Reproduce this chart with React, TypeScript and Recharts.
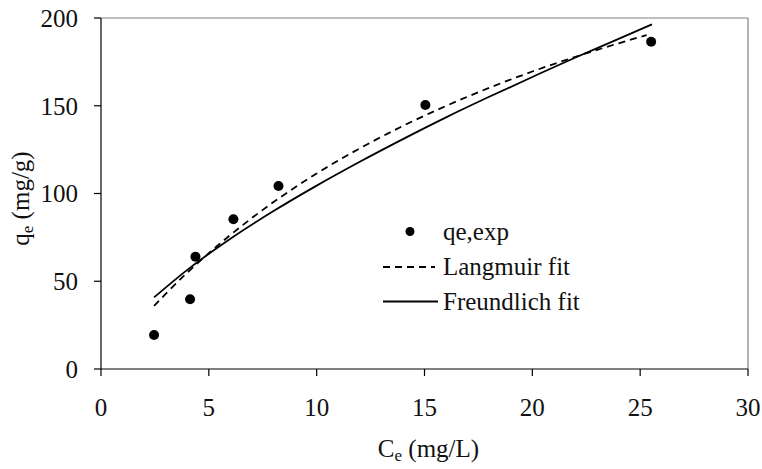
import { ComposedChart, Scatter, Line, XAxis, YAxis, ReferenceLine, Label } from "recharts";

// experimental points
const ceExp = [2.46, 4.13, 4.38, 6.14, 8.23, 15.04, 25.51];
const qeExp = [19.4, 39.7, 64.0, 85.3, 104.3, 150.4, 186.5];

// fitted curves
const langmuirCe = [2.46, 3, 4, 5, 6, 8, 10, 12, 14, 16, 18, 20, 22, 24, 25.3];
const langmuirQe = [35.9, 42.8, 54.9, 66.0, 76.4, 95.1, 111.4, 125.7, 138.5, 149.9, 160.2, 169.5, 177.9, 185.6, 190.3];
const freundlichCe = [2.46, 4, 6, 8, 10, 12, 14, 16, 18, 20, 22, 24, 25.55];
const freundlichQe = [40.8, 56.5, 74.2, 90.0, 104.5, 118.1, 131.0, 143.4, 155.1, 166.4, 177.5, 188.1, 196.4];

const xTicks = [0, 5, 10, 15, 20, 25, 30];
const yTicks = [0, 50, 100, 150, 200];

const legendItems = ["qe,exp", "Langmuir fit", "Freundlich fit"];

const font = "Liberation Serif";
const ink = "#111";

const toRows = (xs: number[], ys: number[]) => xs.map((x, i) => ({ x, q: ys[i] }));

function XTitle(props: any) {
  const { x, y, width } = props.viewBox;
  return (
    <text x={x + width / 2 + 4} y={y + 88} textAnchor="middle" fontFamily={font} fontSize={25} fill={ink}>
      C<tspan fontSize={17} dy={4}>e</tspan>
      <tspan dy={-4}> (mg/L)</tspan>
    </text>
  );
}

function YTitle(props: any) {
  const { x, y, height } = props.viewBox;
  const cx = x + 29;
  const cy = y + height / 2 + 5;
  return (
    <text x={cx} y={cy} textAnchor="middle" fontFamily={font} fontSize={25} fill={ink} transform={`rotate(-90 ${cx} ${cy})`}>
      q<tspan fontSize={17} dy={4}>e</tspan>
      <tspan dy={-4}> (mg/g)</tspan>
    </text>
  );
}

const Dot = (p: any) => <circle cx={p.cx} cy={p.cy} r={5} fill="#000" />;

function LegendBox() {
  return (
    <div style={{ position: "absolute", left: 383, top: 214, fontFamily: font, fontSize: 25, color: ink }}>
      {legendItems.map((name, i) => (
        <div key={name} style={{ display: "flex", alignItems: "center", height: 35 }}>
          <svg width={55} height={35} style={{ marginRight: 5 }}>
            {i === 0 && <circle cx={27} cy={17.5} r={4.5} fill="#000" />}
            {i === 1 && <line x1={0} x2={52} y1={18} y2={18} stroke="#000" strokeWidth={1.8} strokeDasharray="7 5" />}
            {i === 2 && <line x1={0} x2={55} y1={17.5} y2={17.5} stroke="#000" strokeWidth={1.8} />}
          </svg>
          <span>{name}</span>
        </div>
      ))}
    </div>
  );
}

export default function App() {
  const expData = toRows(ceExp, qeExp);
  const langData = toRows(langmuirCe, langmuirQe);
  const freuData = toRows(freundlichCe, freundlichQe);

  return (
    <div style={{ position: "absolute", left: 0, top: 0, width: 762, height: 469, background: "#fff" }}>
      <ComposedChart width={762} height={469} margin={{ top: 18, right: 14, bottom: 0, left: 0 }}>
        <XAxis
          type="number"
          dataKey="x"
          domain={[0, 30]}
          ticks={xTicks}
          height={100}
          tickSize={7}
          tickMargin={22}
          axisLine={{ stroke: "#000", strokeWidth: 1.2 }}
          tickLine={{ stroke: "#000", strokeWidth: 1.2 }}
          tick={{ fontSize: 25, fill: ink, fontFamily: font }}
        >
          <Label content={XTitle} />
        </XAxis>
        <YAxis
          type="number"
          dataKey="q"
          domain={[0, 200]}
          ticks={yTicks}
          width={101}
          tickSize={7}
          tickMargin={16}
          axisLine={{ stroke: "#000", strokeWidth: 1.2 }}
          tickLine={{ stroke: "#000", strokeWidth: 1.2 }}
          tick={{ fontSize: 25, fill: ink, fontFamily: font }}
        >
          <Label content={YTitle} />
        </YAxis>
        <ReferenceLine y={200} stroke="#808080" strokeWidth={1.2} />
        <ReferenceLine x={30} stroke="#808080" strokeWidth={1.2} />
        <Line data={langData} type="monotone" dataKey="q" stroke="#000" strokeWidth={1.8} strokeDasharray="7 5" dot={false} isAnimationActive={false} />
        <Line data={freuData} type="monotone" dataKey="q" stroke="#000" strokeWidth={1.8} dot={false} isAnimationActive={false} />
        <Scatter data={expData} dataKey="q" shape={Dot} isAnimationActive={false} />
      </ComposedChart>
      <LegendBox />
    </div>
  );
}
